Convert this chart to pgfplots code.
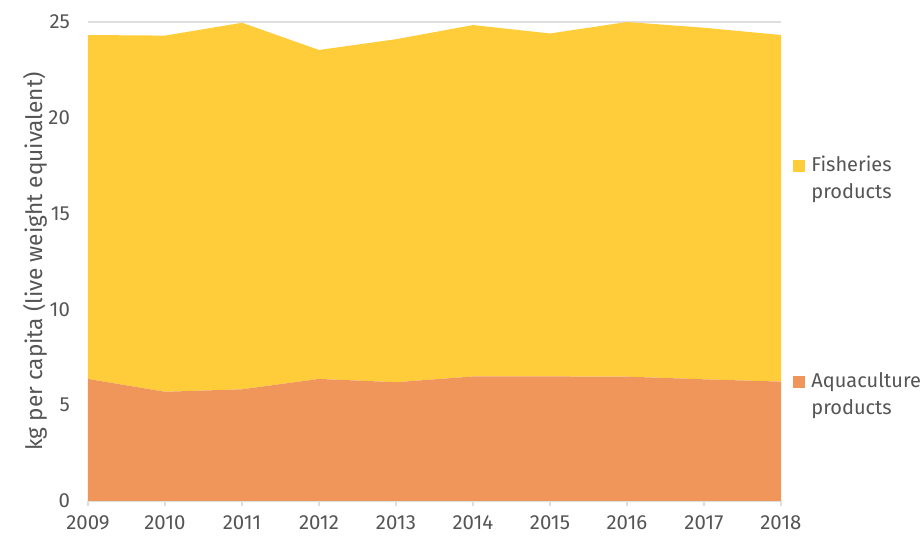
\documentclass[border=0pt]{standalone}
\usepackage{pgfplots}
\pgfplotsset{compat=1.18}
\usepackage{fontspec}
\setmainfont{Fira Sans}
\definecolor{fishyellow}{RGB}{255,205,57}
\definecolor{aquaorange}{RGB}{240,150,90}
\definecolor{txtgray}{RGB}{85,85,85}
\definecolor{gridgray}{RGB}{222,222,222}
\begin{document}
\begin{tikzpicture}
\path (-44pt,-16pt) rectangle (417.5pt,250.5pt);
\begin{axis}[
    at={(0,0)}, anchor=south west,
    scale only axis,
    width=346.5pt, height=239.5pt,
    xmin=2009, xmax=2018,
    ymin=0, ymax=25,
    xtick={2009,...,2018},
    ytick={0,5,...,25},
    x tick label style={/pgf/number format/1000 sep={}},
    /pgf/number format/assume math mode=true,
    tick label style={font=\fontsize{10.2}{12}\selectfont, text=txtgray},
    xticklabel style={yshift=-1.5pt},
    yticklabel style={xshift=-3pt},
    axis x line*=bottom, axis y line*=left,
    x axis line style={draw=gridgray, line width=0.7pt},
    y axis line style={draw=none},
    xtick style={draw=gridgray, line width=0.7pt},
    tick align=outside,
    major tick length=2.5pt,
    ytick style={draw=none},
    ymajorgrids=true,
    grid style={draw=gridgray, line width=0.7pt},
    ylabel={kg per capita (live weight equivalent)},
    ylabel style={at={(axis description cs:-0.0765,0.5)}, anchor=center,
        font=\fontsize{11.3}{13}\selectfont, text=txtgray},
    stack plots=y,
    clip=false,
]
\addplot[draw=none, fill=aquaorange] coordinates {
    (2009,6.37)(2010,5.70)(2011,5.83)(2012,6.37)(2013,6.20)
    (2014,6.50)(2015,6.50)(2016,6.49)(2017,6.35)(2018,6.23)
} \closedcycle;
\addplot[draw=none, fill=fishyellow] coordinates {
    (2009,17.95)(2010,18.59)(2011,19.13)(2012,17.17)(2013,17.90)
    (2014,18.34)(2015,17.90)(2016,18.51)(2017,18.35)(2018,18.09)
} \closedcycle;
\end{axis}
% legend (px -> pt: x-88, 501-y, times 0.5)
\tikzset{legtxt/.style={anchor=base west, inner sep=0pt, text=txtgray,
    font=\fontsize{10}{12}\selectfont}}
\fill[fishyellow] (352.5pt,164.5pt) rectangle (358.5pt,170.5pt);
\node[legtxt] at (361.5pt,164.5pt) {Fisheries};
\node[legtxt] at (361.5pt,151pt) {products};
\fill[aquaorange] (352.5pt,56.5pt) rectangle (358.5pt,62.5pt);
\node[legtxt] at (361.5pt,56.5pt) {Aquaculture};
\node[legtxt] at (361.5pt,43pt) {products};
\end{tikzpicture}
\end{document}
